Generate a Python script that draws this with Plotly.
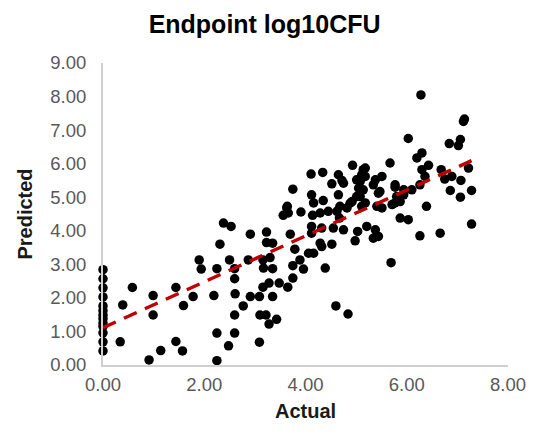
import plotly.graph_objects as go

actual = [
    0, 0, 0, 0, 0, 0, 0, 0, 0, 0, 0, 0, 0,
    0.34, 0.39, 0.58, 0.91, 0.99, 0.99, 1.14, 1.44, 1.44, 1.59, 1.57, 1.78, 1.90, 1.94,
    2.38, 2.53, 2.31, 2.91, 3.23, 3.23, 3.35, 2.50, 2.25, 2.60, 2.60, 2.87, 3.16, 3.17, 3.35, 3.30,
    2.19, 2.61, 2.91, 3.09, 3.35, 3.16, 3.28, 3.48, 3.65, 3.75, 2.77, 2.60, 3.10, 3.22, 3.28, 3.43,
    2.25, 2.60, 2.48, 3.09, 2.25,
    3.63, 3.66, 3.56, 3.91, 3.70, 3.79, 3.89, 3.75, 3.96, 4.06,
    3.75, 4.11, 4.34, 4.65, 4.93, 4.52, 4.75, 5.14, 5.08, 4.12, 4.16, 4.35, 4.65, 4.68, 4.82, 5.01,
    4.92, 4.14, 4.29, 4.45, 4.62, 4.67, 4.12, 4.12, 4.32, 4.55, 4.75, 5.03, 4.29, 4.52, 4.16, 4.32, 4.98,
    4.72, 5.01, 5.11, 5.05, 5.47, 5.77, 4.88, 5.08, 5.18, 5.77, 5.87, 3.64,
    6.03, 6.30, 6.20, 5.67, 6.43, 6.30, 5.18, 5.18, 5.38, 5.51, 5.34, 5.14, 5.44, 5.77, 5.94, 6.10,
    6.26, 5.80, 5.94, 5.71, 5.11, 5.41, 5.51, 6.39, 5.87, 6.03, 5.21, 5.38, 5.44, 5.34, 6.26, 6.66, 5.69,
    6.28, 7.14, 7.12, 6.84, 7.06, 7.02, 6.36, 6.68, 6.75, 6.89, 7.07, 7.22, 6.86, 7.06, 7.28, 7.28,
    4.39, 4.60, 4.84,
]
predicted = [
    0.42, 0.69, 0.96, 1.15, 1.25, 1.38, 1.49, 1.62, 1.76, 2.03, 2.30, 2.57, 2.84,
    0.69, 1.79, 2.31, 0.15, 2.07, 1.49, 0.43, 2.31, 0.70, 1.77, 0.42, 2.04, 3.13, 2.86,
    4.23, 4.13, 3.60, 3.90, 3.96, 3.65, 3.63, 3.13, 2.87, 2.87, 2.57, 3.13, 3.13, 2.89, 2.87, 3.20,
    2.07, 2.12, 2.04, 2.04, 2.04, 2.32, 2.44, 2.44, 2.32, 2.59, 1.76, 1.49, 1.49, 1.49, 1.22, 1.36,
    0.95, 0.95, 0.57, 0.68, 0.13,
    4.68, 4.53, 4.46, 4.56, 3.90, 3.45, 3.13, 2.96, 2.86, 3.33,
    5.24, 5.69, 5.74, 5.67, 5.95, 5.40, 5.42, 5.82, 5.47, 5.07, 4.83, 4.90, 5.07, 4.73, 4.68, 5.02,
    4.87, 4.46, 4.53, 4.58, 4.58, 4.38, 4.13, 3.93, 4.08, 4.08, 4.03, 3.98, 3.63, 3.60, 3.33, 3.53, 3.70,
    5.50, 5.52, 5.67, 5.27, 5.17, 5.30, 4.82, 5.02, 4.83, 4.83, 4.87, 4.73,
    6.75, 6.32, 6.17, 6.02, 5.95, 5.82, 5.87, 5.62, 5.52, 5.62, 5.37, 5.22, 5.12, 5.37, 5.22, 5.22,
    5.37, 5.02, 5.07, 4.78, 4.73, 4.73, 4.68, 4.73, 4.38, 4.33, 4.13, 4.03, 3.83, 3.78, 3.85, 3.93, 3.05,
    8.05, 7.33, 7.26, 6.60, 6.72, 6.54, 5.62, 5.82, 5.54, 5.62, 5.50, 5.87, 5.20, 5.00, 5.20, 4.20,
    2.89, 1.76, 1.52,
]

trend_x = [0.0, 7.28]
trend_y = [1.11, 6.09]

tick_vals = [0, 1, 2, 3, 4, 5, 6, 7, 8, 9]
x_tick_vals = [0, 2, 4, 6, 8]

font_family = "Liberation Sans, Arial, sans-serif"

fig = go.Figure()
fig.add_trace(go.Scatter(
    x=actual, y=predicted, mode="markers", cliponaxis=False,
    marker=dict(color="black", size=9.5, line=dict(width=0)),
    showlegend=False,
))
fig.add_trace(go.Scatter(
    x=trend_x, y=trend_y, mode="lines", cliponaxis=False,
    line=dict(color="#C00000", width=3.5, dash="14px,9px"),
    showlegend=False,
))

fig.update_layout(
    width=540, height=436,
    margin=dict(l=103, r=32, t=63, b=71),
    paper_bgcolor="white", plot_bgcolor="white",
    font=dict(family=font_family, color="#595959"),
    title=dict(text="<b>Endpoint log10CFU</b>", x=0.49, xanchor="center",
               y=0.945, yanchor="middle",
               font=dict(size=25, color="black", family=font_family)),
    xaxis=dict(range=[0, 8], tickvals=x_tick_vals, tickformat=".2f",
               showgrid=False, zeroline=False, showline=True,
               linecolor="#D0D0D0", linewidth=2, ticks="",
               ticklabelstandoff=2,
               tickfont=dict(size=18.5, color="#595959"),
               title=dict(text="<b>Actual</b>", standoff=10,
                          font=dict(size=20, color="#1a1a1a"))),
    yaxis=dict(range=[0, 9], tickvals=tick_vals, tickformat=".2f",
               showgrid=False, zeroline=False, showline=True,
               linecolor="#D0D0D0", linewidth=2, ticks="",
               ticklabelstandoff=11,
               tickfont=dict(size=18.5, color="#595959"),
               title=dict(text="<b>Predicted</b>", standoff=12,
                          font=dict(size=20, color="#1a1a1a"))),
)

fig.write_html("out.html", config={"displayModeBar": False},
               post_script="document.body.style.margin='0';")
